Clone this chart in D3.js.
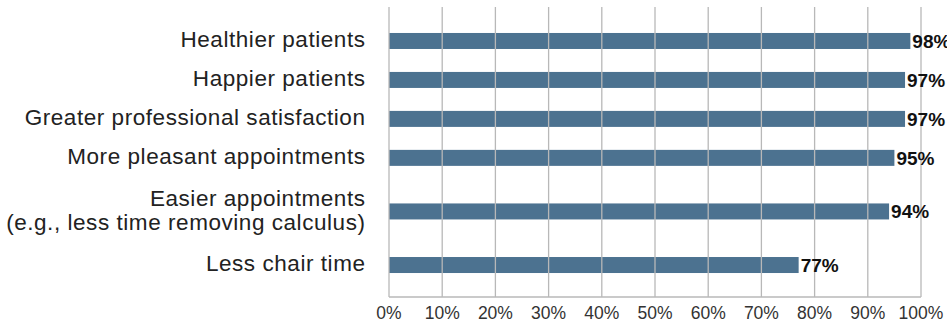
<!DOCTYPE html>
<html><head><meta charset="utf-8">
<script src="https://cdn.jsdelivr.net/npm/d3@7"></script>
<style>body{margin:0;background:#fff}svg{display:block}</style>
</head><body>
<svg id="c" width="947" height="322"></svg>
<script>
const categories = [
  ["Healthier patients"],
  ["Happier patients"],
  ["Greater professional satisfaction"],
  ["More pleasant appointments"],
  ["Easier appointments", "(e.g., less time removing calculus)"],
  ["Less chair time"]
];
const values = [98, 97, 97, 95, 94, 77];
const tickValues = [0, 10, 20, 30, 40, 50, 60, 70, 80, 90, 100];
const tickLabels = ["0%","10%","20%","30%","40%","50%","60%","70%","80%","90%","100%"];

const svg = d3.select("#c");
const x = d3.scaleLinear().domain([0, 100]).range([389, 921]);

// slot units: single-line rows = 1, two-line rows = 1.75
const units = categories.map(c => c.length === 1 ? 1 : 1.75);
const starts = [];
let acc = 0;
units.forEach(u => { starts.push(acc + u / 2); acc += u; });
const y = d3.scaleLinear().domain([0, acc]).range([21.5, 284.5]);
const barH = 16;

// bars
svg.append("g").selectAll("rect").data(values).join("rect")
  .attr("x", x(0))
  .attr("y", (d, i) => y(starts[i]) - barH / 2)
  .attr("width", d => x(d) - x(0))
  .attr("height", barH)
  .attr("fill", "#4c7290");

// gridlines on top
const grid = svg.append("g");
grid.selectAll("line").data(tickValues).join("line")
  .attr("x1", d => x(d)).attr("x2", d => x(d))
  .attr("y1", 7).attr("y2", 297)
  .attr("stroke", "#b8b8b8").attr("stroke-width", 1.3);
grid.append("line")
  .attr("x1", x(0)).attr("x2", x(100))
  .attr("y1", 297).attr("y2", 297)
  .attr("stroke", "#b8b8b8").attr("stroke-width", 1.3);

// x tick labels
svg.append("g").selectAll("text").data(tickValues).join("text")
  .attr("x", d => x(d)).attr("y", 319)
  .attr("text-anchor", "middle")
  .attr("font-family", "Liberation Sans, Arial, sans-serif")
  .attr("font-size", 17.5).attr("fill", "#333")
  .text((d, i) => tickLabels[i]);

// category labels
const lab = svg.append("g").selectAll("text").data(categories).join("text")
  .attr("text-anchor", "end")
  .attr("font-family", "Liberation Sans, Arial, sans-serif")
  .attr("font-size", 22.5).attr("letter-spacing", 0.55).attr("fill", "#222");
lab.each(function(d, i) {
  const t = d3.select(this);
  const n = d.length, lh = 24;
  d.forEach((line, k) => {
    t.append("tspan").attr("x", 365.5)
      .attr("y", y(starts[i]) + 6 + (k - (n - 1) / 2) * lh + (n > 1 ? 1 : 0))
      .text(line);
  });
});

// value labels
svg.append("g").selectAll("text").data(values).join("text")
  .attr("x", d => x(d) + 2)
  .attr("y", (d, i) => y(starts[i]) + 7)
  .attr("font-family", "Liberation Sans, Arial, sans-serif")
  .attr("font-weight", "bold")
  .attr("font-size", 19).attr("fill", "#111")
  .text(d => d + "%");
</script>
</body></html>
